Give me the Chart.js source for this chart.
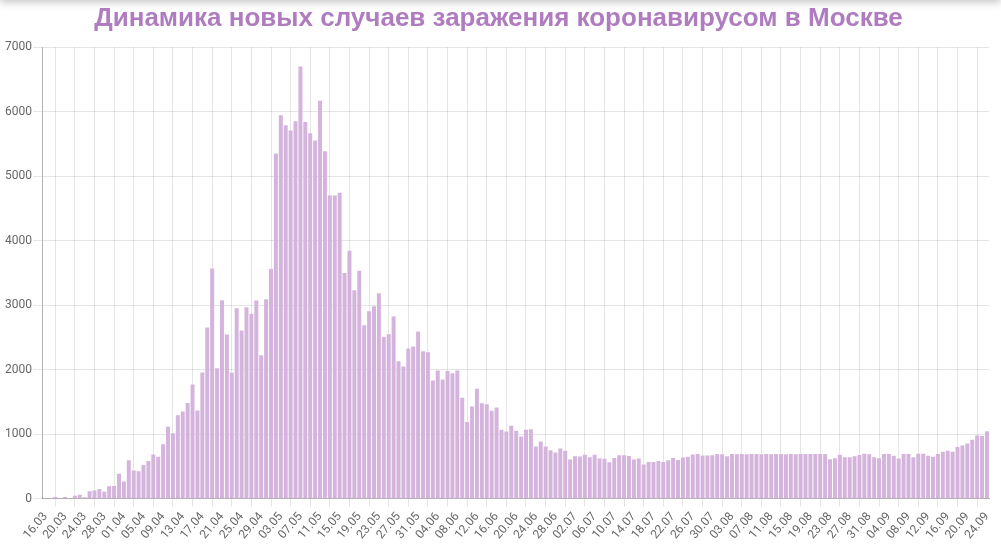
<!DOCTYPE html>
<html>
<head>
<meta charset="utf-8">
<script src="https://cdn.jsdelivr.net/npm/chart.js@4/dist/chart.umd.min.js"></script>
<style>
html, body { margin: 0; padding: 0; background: #fff; overflow: hidden; }
.topshadow { position: absolute; left: 0; top: -10px; width: 1001px; height: 10px; box-shadow: 0 2px 8px rgba(0,0,0,0.25); z-index: 2; }
.wrap { position: absolute; left: 0; top: 0; width: 1001px; height: 545px; }
</style>
</head>
<body>
<div class="topshadow"></div>
<div class="wrap"><canvas id="graph_moscow"></canvas></div>
<script>
// первый день ряда и подписи, которые видны на оси X
var startDay = '2020-03-16';
var tickLabels = ['16.03','20.03','24.03','28.03','01.04','05.04','09.04','13.04','17.04','21.04','25.04','29.04',
    '03.05','07.05','11.05','15.05','19.05','23.05','27.05','31.05','04.06','08.06','12.06','16.06','20.06','24.06','28.06',
    '02.07','06.07','10.07','14.07','18.07','22.07','26.07','30.07','03.08','07.08','11.08','15.08','19.08','23.08','27.08',
    '31.08','04.09','08.09','12.09','16.09','20.09','24.09'];

// новые случаи по дням
var cases = [
    10, 2, 24, 5, 24, 2, 46, 62, 21, 114, 128, 149, 108, 191, 197, 387, 267, 595,
    435, 425, 520, 585, 685, 650, 845, 1115, 1015, 1295, 1350, 1485, 1770, 1365,
    1955, 2655, 3567, 2021, 3078, 2547, 1954, 2954, 2608, 2969, 2866, 3072, 2222, 3093, 3562,
    5351, 5944, 5789, 5707, 5851, 6702, 5840, 5665, 5552, 6170, 5387, 4701, 4701, 4743,
    3498, 3844, 3230, 3535, 2688, 2905, 2982, 3184, 2508, 2549, 2823, 2131, 2049, 2327, 2358,
    2590, 2286, 2270, 1832, 1987, 1847, 1981, 1945, 1987, 1563, 1187, 1429, 1703, 1481, 1465,
    1362, 1414, 1067, 1041, 1129, 1052, 963, 1067, 1077, 808, 886, 808, 751, 715, 777, 741,
    606, 658, 653, 679, 642, 679, 622, 617, 565, 632, 674, 674, 663, 606, 622, 529, 570,
    570, 585, 570, 596, 632, 601, 637, 648, 684, 694, 668, 668, 673, 694, 689, 658, 694,
    690, 692, 688, 691, 692, 690, 692, 689, 693, 691, 690, 692, 689, 691, 692,
    692, 692, 692, 692, 610, 626, 682, 641, 641, 657, 677, 698, 687, 641, 626, 692, 692, 667,
    621, 692, 692, 641, 698, 698, 667, 651, 692, 728, 744, 728, 800, 826, 857, 913, 980, 970, 1047
];

var days = [];
var d = new Date(startDay + 'T12:00:00');
for (var i = 0; i < cases.length; i++) {
    var dd = ('0' + d.getDate()).slice(-2), mm = ('0' + (d.getMonth() + 1)).slice(-2);
    days.push(dd + '.' + mm);
    d.setDate(d.getDate() + 1);
}

var ctx = document.getElementById('graph_moscow');

var myChart_moscow = new Chart(ctx, {
    type: 'bar',
    data: {
        labels: days,
        datasets: [{
            label: 'Новые случаи',
            data: cases,
            backgroundColor: '#d4b3dc',
            borderWidth: 0,
            barPercentage: 0.9,
            categoryPercentage: 0.9
        }]
    },
    options: {
        responsive: true,
        maintainAspectRatio: false,
        animation: false,
        layout: {
            padding: { left: 4, right: 8, top: 0, bottom: 0 }
        },
        plugins: {
            legend: { display: false },
            tooltip: { enabled: false },
            title: {
                display: true,
                text: 'Динамика новых случаев заражения коронавирусом в Москве',
                color: '#b07cc0',
                font: { family: '"Liberation Sans", Arial, sans-serif', size: 26, weight: 'bold' },
                padding: { top: 3, bottom: 13 }
            }
        },
        scales: {
            x: {
                grid: { color: 'rgba(0,0,0,0.1)', tickLength: 8 },
                border: { color: 'rgba(0,0,0,0.25)' },
                ticks: {
                    autoSkip: false,
                    maxRotation: 50,
                    minRotation: 50,
                    color: '#666',
                    font: { family: 'Roboto', size: 12 },
                    callback: function (v) {
                        var lab = this.getLabelForValue(v);
                        return tickLabels.indexOf(lab) >= 0 ? lab : null;
                    }
                }
            },
            y: {
                min: 0,
                max: 7000,
                grid: { color: 'rgba(0,0,0,0.1)', tickLength: 10 },
                border: { color: 'rgba(0,0,0,0.3)' },
                ticks: {
                    stepSize: 1000,
                    padding: 1,
                    color: '#666',
                    font: { family: 'Roboto', size: 12 },
                    callback: function (v) { return String(v); }
                }
            }
        }
    }
});
</script>
</body>
</html>
